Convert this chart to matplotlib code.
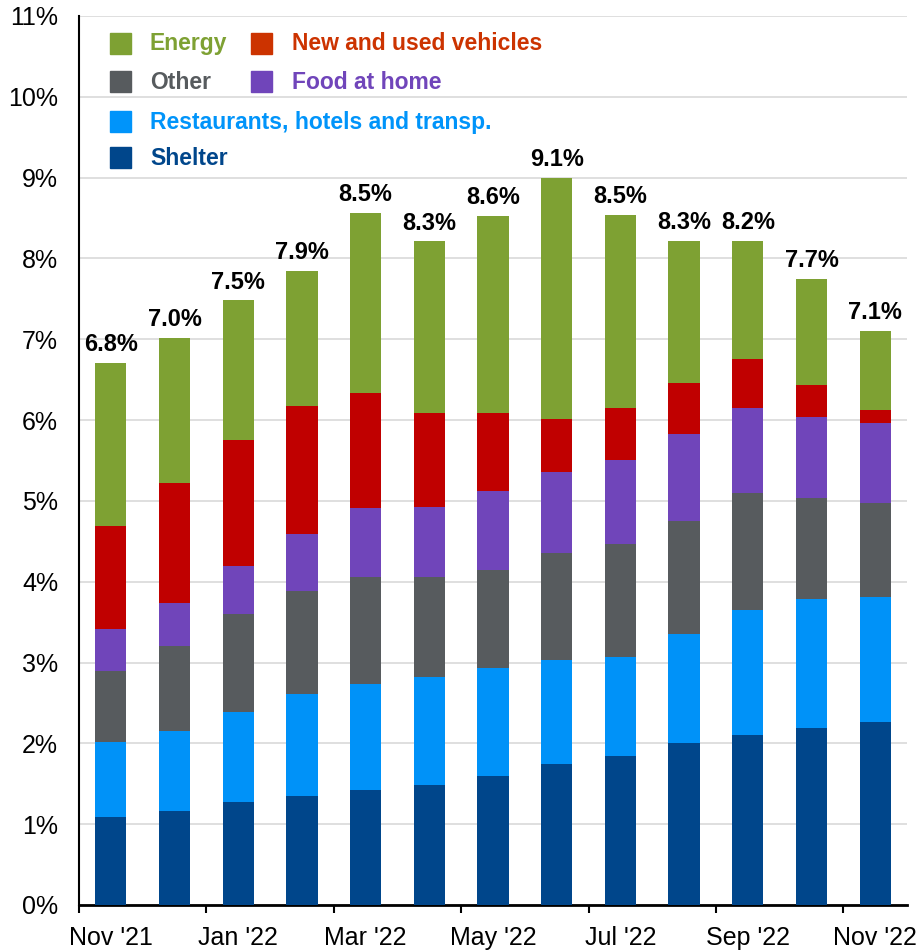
import matplotlib
matplotlib.use('Agg')
import matplotlib.pyplot as plt
from matplotlib.patches import Rectangle
import numpy as np

plt.rcParams['font.family'] = ['Liberation Sans', 'DejaVu Sans']

# 月份
months = ["Nov '21", "Dec '21", "Jan '22", "Feb '22", "Mar '22", "Apr '22", "May '22",
          "Jun '22", "Jul '22", "Aug '22", "Sep '22", "Oct '22", "Nov '22"]

# 各分项贡献 (百分点)
shelter = [1.09, 1.16, 1.27, 1.35, 1.42, 1.49, 1.60, 1.74, 1.84, 2.00, 2.10, 2.19, 2.27]
restaurants = [0.93, 0.99, 1.12, 1.26, 1.32, 1.33, 1.33, 1.29, 1.23, 1.35, 1.55, 1.60, 1.54]
other = [0.87, 1.06, 1.21, 1.28, 1.32, 1.24, 1.21, 1.32, 1.40, 1.40, 1.45, 1.25, 1.17]
food_home = [0.53, 0.53, 0.60, 0.70, 0.85, 0.87, 0.98, 1.01, 1.04, 1.08, 1.05, 1.00, 0.98]
vehicles = [1.27, 1.48, 1.55, 1.59, 1.42, 1.16, 0.97, 0.65, 0.64, 0.63, 0.61, 0.40, 0.16]
energy = [2.02, 1.80, 1.73, 1.66, 2.23, 2.12, 2.44, 2.99, 2.39, 1.76, 1.46, 1.31, 0.98]

# 柱顶标注
total_labels = ['6.8%', '7.0%', '7.5%', '7.9%', '8.5%', '8.3%', '8.6%',
                '9.1%', '8.5%', '8.3%', '8.2%', '7.7%', '7.1%']

series = [
    ('Shelter', shelter, '#00468B'),
    ('Restaurants, hotels and transp.', restaurants, '#0092F8'),
    ('Other', other, '#575B5E'),
    ('Food at home', food_home, '#7045BA'),
    ('New and used vehicles', vehicles, '#C00000'),
    ('Energy', energy, '#7EA133'),
]

fig = plt.figure(figsize=(9.16, 9.51), dpi=100)
ax = fig.add_axes([79 / 916, 46 / 951, 828 / 916, 889 / 951])

x = np.arange(len(months))
bottom = np.zeros(len(months))
for name, vals, color in series:
    ax.bar(x, vals, width=0.49, bottom=bottom, color=color, edgecolor='none', zorder=3)
    bottom += np.array(vals)

for xi, top, lab in zip(x, bottom, total_labels):
    ax.annotate(lab, (xi, top), xytext=(0, 5), textcoords='offset points',
                ha='center', va='bottom', fontsize=17, fontweight='bold', zorder=4)

ax.set_xlim(-0.5, len(months) - 0.5)
ax.set_ylim(0, 11)
ax.set_yticks(range(0, 12))
ax.set_yticklabels([f'{i}%' for i in range(0, 12)])
ax.tick_params(axis='y', length=0, pad=15, labelsize=18)
ax.yaxis.grid(True, color='#D9D9D9', linewidth=1.2, zorder=0)
ax.set_axisbelow(True)

ax.set_xticks(x[::2])
ax.set_xticklabels(months[::2])
ax.set_xticks(np.arange(-0.5, len(months) - 1, 2), minor=True)
ax.tick_params(axis='x', which='major', length=0, pad=15, labelsize=18)
ax.tick_params(axis='x', which='minor', length=6, width=1.5, direction='out')

for s in ['top', 'right']:
    ax.spines[s].set_visible(False)
ax.spines['left'].set_linewidth(1.5)
ax.spines['bottom'].set_linewidth(2)

# 图例 (手动绘制)
legend_items = [
    ('Energy', '#7EA133', 0, 0),
    ('New and used vehicles', '#CC3300', 1, 0),
    ('Other', '#575B5E', 0, 1),
    ('Food at home', '#7045BA', 1, 1),
    ('Restaurants, hotels and transp.', '#0094FA', 0, 2),
    ('Shelter', '#00468B', 0, 3),
]
col_sq = [0.0374, 0.2077]
col_tx = [0.0857, 0.257]
row_y = [0.9696, 0.9258, 0.8808, 0.8403]
sq_w, sq_h = 21 / 828, 21 / 889
for name, color, col, row in legend_items:
    ax.add_patch(Rectangle((col_sq[col], row_y[row] - sq_h / 2), sq_w, sq_h,
                           transform=ax.transAxes, color=color, clip_on=False, zorder=5))
    ax.text(col_tx[col], row_y[row] - 0.001, name, transform=ax.transAxes, color=color,
            fontsize=16.5, fontweight='bold', va='center', ha='left', zorder=5)

fig.savefig('out.png', dpi=100)
